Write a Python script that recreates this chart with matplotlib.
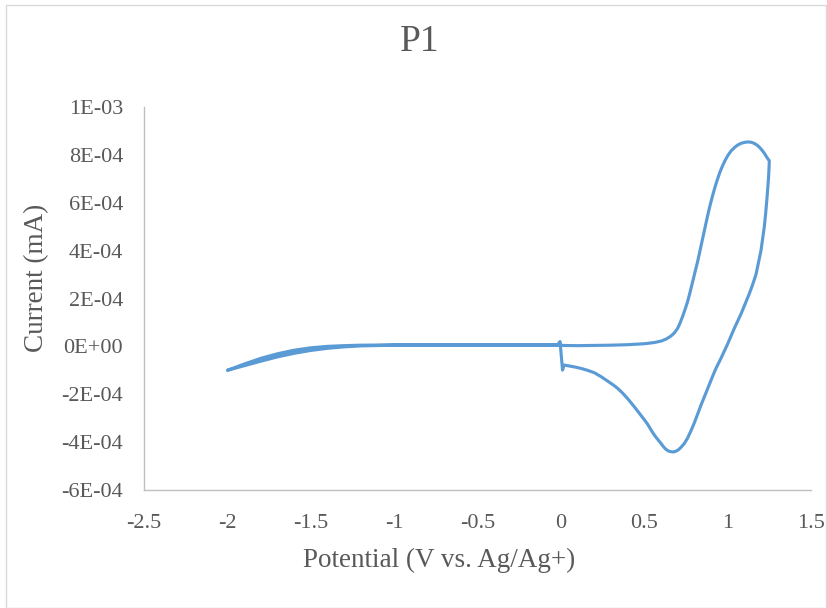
import matplotlib
matplotlib.use("Agg")
import matplotlib.pyplot as plt
from matplotlib.patches import Rectangle
import numpy as np

# ---- data (current in units of 1E-04 mA) ----
fwd_pos_V = [0.00, 0.10, 0.20, 0.30, 0.40, 0.50, 0.56, 0.60, 0.63, 0.66, 0.68, 0.70,
             0.715, 0.73, 0.745, 0.76, 0.775, 0.79, 0.805, 0.82, 0.835, 0.85, 0.865,
             0.88, 0.895, 0.91, 0.925, 0.94, 0.955, 0.97, 0.985, 1.00, 1.02, 1.04,
             1.06, 1.08, 1.10, 1.12, 1.14, 1.16, 1.18, 1.20, 1.22, 1.235, 1.25]
fwd_pos_I = [0.04, 0.03, 0.04, 0.05, 0.07, 0.11, 0.16, 0.22, 0.30, 0.43, 0.56, 0.75,
             0.98, 1.25, 1.55, 1.87, 2.27, 2.70, 3.12, 3.54, 4.02, 4.50, 4.98,
             5.46, 5.90, 6.30, 6.67, 7.00, 7.30, 7.55, 7.77, 7.96, 8.16, 8.30,
             8.41, 8.48, 8.52, 8.54, 8.53, 8.48, 8.39, 8.25, 8.07, 7.90, 7.75]

rev_V = [1.25, 1.248, 1.245, 1.24, 1.235, 1.228, 1.22, 1.21, 1.20, 1.185, 1.17, 1.15,
         1.13, 1.105, 1.08, 1.06, 1.04, 1.02, 1.00, 0.98, 0.96, 0.945, 0.93, 0.91,
         0.89, 0.865, 0.84, 0.82, 0.80, 0.78, 0.76, 0.74, 0.72, 0.705, 0.69, 0.675,
         0.66, 0.645, 0.63, 0.615, 0.60, 0.58, 0.56, 0.54, 0.52, 0.50, 0.48, 0.46,
         0.44, 0.42, 0.40, 0.37, 0.34, 0.31, 0.28, 0.24, 0.20, 0.16, 0.12, 0.09,
         0.06, 0.04, 0.02, 0.01]
rev_I = [7.75, 7.40, 7.00, 6.55, 6.10, 5.55, 5.00, 4.50, 4.00, 3.50, 3.00, 2.58,
         2.20, 1.77, 1.35, 1.05, 0.75, 0.42, 0.10, -0.20, -0.50, -0.71, -0.92, -1.25,
         -1.60, -2.03, -2.46, -2.83, -3.20, -3.53, -3.83, -4.06, -4.22, -4.32, -4.38, -4.41,
         -4.40, -4.37, -4.30, -4.19, -4.05, -3.88, -3.70, -3.48, -3.25, -3.06, -2.88, -2.70,
         -2.52, -2.35, -2.18, -1.95, -1.75, -1.59, -1.45, -1.26, -1.10, -1.00, -0.92, -0.87,
         -0.83, -0.80, -0.78, -0.99]

neg_fwd_V = [-0.005, -0.02, -0.5, -1.0, -1.2, -1.3, -1.4, -1.5, -1.6, -1.7, -1.8, -1.9, -2.0]
neg_fwd_I = [0.20, 0.06, 0.06, 0.05, 0.02, -0.02, -0.08, -0.17, -0.29, -0.44, -0.62, -0.81, -1.00]

neg_rev_V = [-2.0, -1.9, -1.8, -1.7, -1.6, -1.5, -1.4, -1.3, -1.2, -1.0, -0.5, 0.0]
neg_rev_I = [-1.00, -0.74, -0.50, -0.31, -0.16, -0.06, 0.00, 0.03, 0.05, 0.06, 0.06, 0.05]

x_ticks = [-2.5, -2, -1.5, -1, -0.5, 0, 0.5, 1, 1.5]
x_tick_labels = ["-2.5", "-2", "-1.5", "-1", "-0.5", "0", "0.5", "1", "1.5"]
y_ticks = [-6e-4, -4e-4, -2e-4, 0, 2e-4, 4e-4, 6e-4, 8e-4, 1e-3]
y_tick_labels = ["-6E-04", "-4E-04", "-2E-04", "0E+00", "2E-04", "4E-04", "6E-04", "8E-04", "1E-03"]

title = "P1"
x_label = "Potential (V vs. Ag/Ag+)"
y_label = "Current (mA)"

# ---- build path ----
V = np.array(fwd_pos_V + rev_V + neg_fwd_V + neg_rev_V)
I = np.array(fwd_pos_I + rev_I + neg_fwd_I + neg_rev_I) * 1e-4

plt.rcParams['font.family'] = ['Liberation Serif', 'DejaVu Serif']
text_color = '#595959'
W, H = 827, 608
fig = plt.figure(figsize=(W / 100, H / 100), dpi=100)
fig.patch.set_facecolor('white')

ax = fig.add_axes([144 / W, 1 - 490 / H, (811 - 144) / W, (490 - 107) / H])
ax.plot(V, I, color='#5B9BD5', lw=2.25, solid_joinstyle='round', solid_capstyle='round')

ax.set_xlim(-2.5, 1.5)
ax.set_ylim(-6e-4, 1e-3)
ax.set_xticks(x_ticks)
ax.set_xticklabels(x_tick_labels)
ax.set_yticks(y_ticks)
ax.set_yticklabels(y_tick_labels)
ax.tick_params(axis='both', length=0, labelsize=16, colors=text_color)
ax.tick_params(axis='x', pad=17)
ax.tick_params(axis='y', pad=15)
for s in ['top', 'right']:
    ax.spines[s].set_visible(False)
for s in ['left', 'bottom']:
    ax.spines[s].set_color('#BFBFBF')
    ax.spines[s].set_linewidth(1.0)

fig.text(420 / W, 1 - 42 / H, title, ha='center', va='center', fontsize=27, color=text_color)
fig.text(439 / W, 1 - 560 / H, x_label, ha='center', va='center', fontsize=19.5, color=text_color)
fig.text(37 / W, 1 - 278 / H, y_label, ha='center', va='center', rotation=90, fontsize=19.5,
         color=text_color)

fig.patches.append(Rectangle((6 / W, 0.5 / H), (826 - 6) / W, (603 - 0.5) / H,
                             transform=fig.transFigure, fill=False,
                             edgecolor='#D9D9D9', lw=1.0))

fig.savefig('out.png', dpi=100)
